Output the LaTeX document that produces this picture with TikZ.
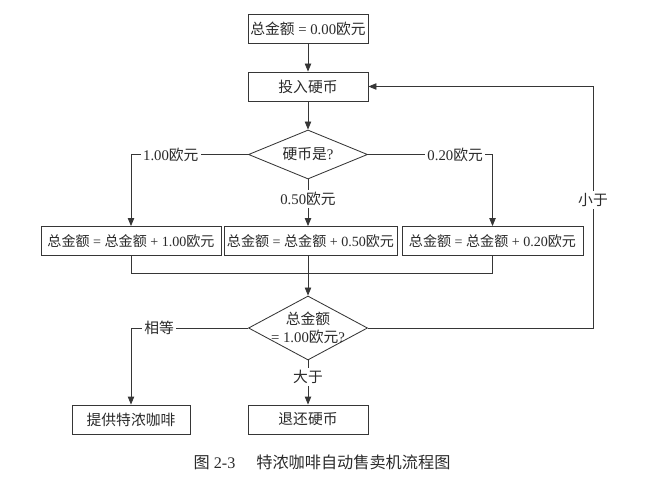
\documentclass[tikz,border=0pt]{standalone}
\usepackage{fontspec}
\setmainfont{Liberation Serif}
\newfontfamily\cjk{Noto Sans CJK SC}
\usepackage{xcolor}
\definecolor{colLine}{HTML}{363636}
\definecolor{colText}{HTML}{2A2A2A}
\usetikzlibrary{arrows.meta, shapes.geometric}
\newcommand{\zh}[1]{{\cjk #1}}

\tikzset{
  box/.style={draw=colLine, line width=0.6pt, inner sep=1pt, minimum height=0.725cm,
    font=\fontsize{10.5}{12}\selectfont, text=colText},
  sum/.style={box, inner sep=0.5pt, font=\fontsize{10}{12}\selectfont},
  decision/.style={draw=colLine, line width=0.6pt, shape=diamond, inner sep=0pt,
    minimum width=2.975cm},
  query/.style={font=\fontsize{10.5}{12.5}\selectfont, text=colText, align=center, inner sep=0pt},
  flow/.style={draw=colLine, line width=0.6pt, -{Triangle[length=2mm, width=1.6mm]}},
  line/.style={draw=colLine, line width=0.6pt},
  tag/.style={fill=white, inner sep=1.5pt, font=\fontsize{10.5}{12}\selectfont, text=colText},
}

\begin{document}
\begin{tikzpicture}[x=0.025cm, y=-0.025cm]
  \useasboundingbox (0,0) rectangle (648,486);
  % Steps and decisions
  \node[box, minimum width=3cm] (start) at (308,28.5) {\zh{总金额} = 0.00\zh{欧元}};
  \node[box, minimum width=3cm] (insert) at (308,86.5) {\zh{投入硬币}};
  \node[decision, minimum height=1.225cm] (coin) at (308,154.5) {};
  \node[query] (coinq) at (coin) {\zh{硬币是}?};
  \node[sum, minimum width=4.5cm] (add1) at (131,241) {\zh{总金额} = \zh{总金额} + 1.00\zh{欧元}};
  \node[sum, minimum width=4.325cm] (add2) at (310.5,241) {\zh{总金额} = \zh{总金额} + 0.50\zh{欧元}};
  \node[sum, minimum width=4.525cm] (add3) at (492.5,241) {\zh{总金额} = \zh{总金额} + 0.20\zh{欧元}};
  \node[decision, minimum height=1.6cm] (check) at (308,328) {};
  \node[query] (checkq) at (check) {\zh{总金额}\\= 1.00\zh{欧元}?};
  \node[box, minimum width=2.95cm] (serve) at (131,419.5) {\zh{提供特浓咖啡}};
  \node[box, minimum width=3cm] (refund) at (308,419.5) {\zh{退还硬币}};
  \coordinate (merge) at (308,273);
  \coordinate (back) at (593,328);
  % Connectors
  \draw[flow] (start) -- (insert);
  \draw[flow] (insert) -- (coin);
  \draw[flow] (coin.west) -| node[tag, pos=0.33] {1.00\zh{欧元}} (add1.north);
  \draw[flow] (coin.south) -- node[tag, pos=0.41] {0.50\zh{欧元}} (coin.south |- add2.north);
  \draw[flow] (coin.east) -| node[tag, pos=0.35] {0.20\zh{欧元}} (add3.north);
  \draw[line] (add1.south) |- (merge);
  \draw[line] (add3.south) |- (merge);
  \draw[line] (merge |- add2.south) -- (merge);
  \draw[flow] (merge) -- (check);
  \draw[flow] (check.west) -| node[tag, pos=0.38] {\zh{相等}} (serve.north);
  \draw[flow] (check) -- node[tag, pos=0.38] {\zh{大于}} (refund);
  \draw[flow] (check.east) -- (back) |- node[tag, pos=0.265] {\zh{小于}} (insert.east);
  % Caption
  \node[font=\fontsize{11.5}{13}\selectfont, text=colText] (caption) at (322,462)
    {\zh{图} 2-3\hspace{1.3em}\zh{特浓咖啡自动售卖机流程图}};
\end{tikzpicture}
\end{document}
